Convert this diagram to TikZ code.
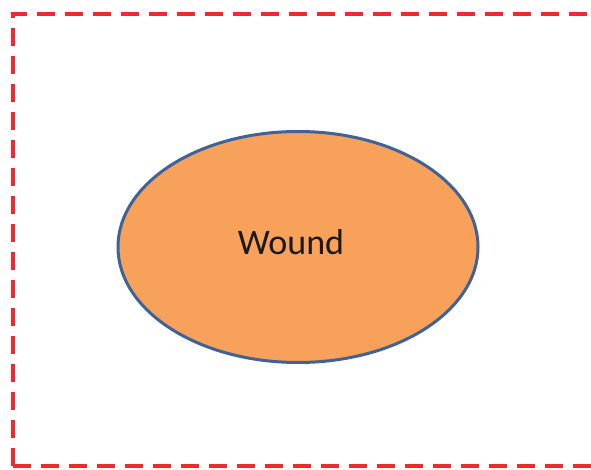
\documentclass[tikz,border=0pt]{standalone}
\usepackage{fontspec}
\setmainfont{Carlito}
\usepackage{xcolor}
\usetikzlibrary{shapes.geometric}

\definecolor{framered}{HTML}{EE2A2F}
\definecolor{woundfill}{HTML}{F8A15A}
\definecolor{woundline}{HTML}{3F6297}

\begin{document}
\begin{tikzpicture}[
    x=1pt, y=-1pt,
    frame/.style={draw=framered, line width=4.5pt, dash pattern=on 18pt off 10pt},
    blob/.style={ellipse, draw=woundline, line width=3pt, fill=#1, minimum width=360pt, minimum height=231pt, inner sep=0pt}
]
\useasboundingbox (0,0) rectangle (591,470);
\draw[frame] (13,466) -- (13,14) -- (600,14);
\draw[frame] (13,466) -- (600,466);
\node[blob=woundfill] (wound) at (298,247) {};
\node[text=black!90, font=\fontsize{36}{43}\selectfont] (woundtext) at ([shift={(-7,-5)}]wound.center) {Wound};
\end{tikzpicture}
\end{document}
